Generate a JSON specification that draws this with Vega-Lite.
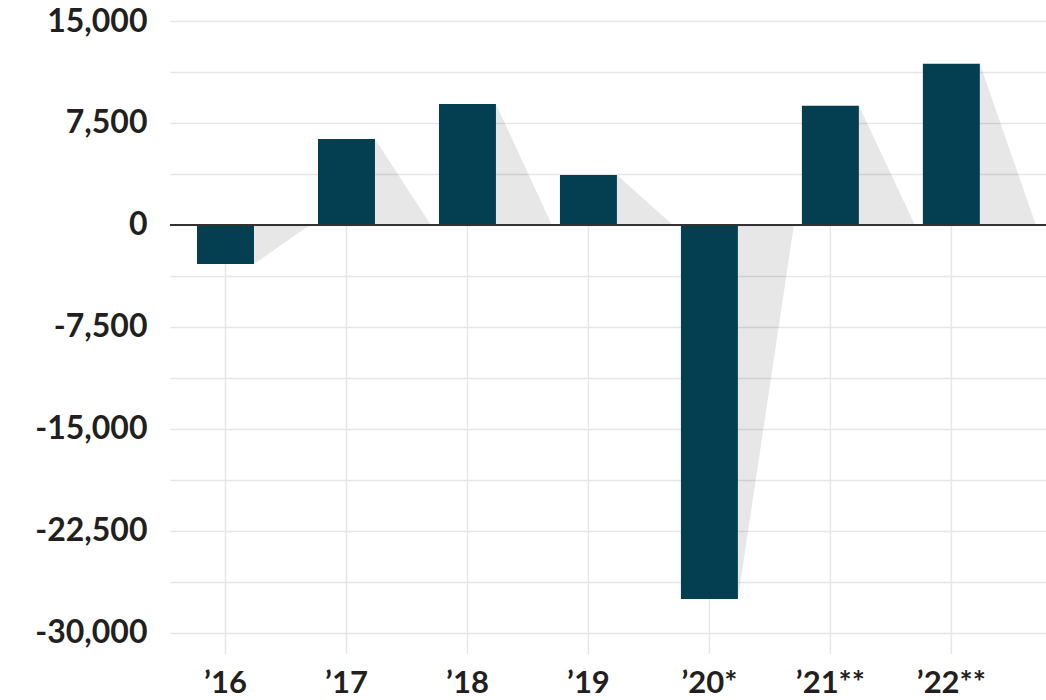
{
  "$schema": "https://vega.github.io/schema/vega-lite/v6.json",
  "width": 876,
  "height": 633,
  "autosize": {"type": "none"},
  "padding": {"left": 170, "top": 21, "right": 0, "bottom": 46},
  "background": "white",
  "config": {
    "view": {"stroke": null},
    "font": "Lato",
    "axis": {
      "labelFont": "Lato",
      "labelFontWeight": "bold",
      "labelFontSize": 32,
      "labelColor": "#231f20",
      "domain": false,
      "ticks": false,
      "title": null
    }
  },
  "data": {
    "values": [
      {"year": "’16", "value": -2870},
      {"year": "’17", "value": 6320},
      {"year": "’18", "value": 8900},
      {"year": "’19", "value": 3680},
      {"year": "’20*", "value": -27500},
      {"year": "’21**", "value": 8770},
      {"year": "’22**", "value": 11860}
    ]
  },
  "resolve": {"scale": {"xOffset": "independent"}},
  "encoding": {
    "x": {
      "field": "year",
      "type": "nominal",
      "sort": null,
      "scale": {"type": "band", "paddingInner": 0.529, "paddingOuter": 0.385, "align": 0.29},
      "axis": {"labelAngle": 0, "labelPadding": 14, "labelFontSize": 31, "grid": false, "labelBaseline": "top"}
    }
  },
  "layer": [
    {
      "mark": {"type": "rule", "color": "#e6e6e6", "strokeWidth": 1.5},
      "encoding": {
        "y": {
          "datum": 0,
          "type": "quantitative",
          "scale": {"domain": [-31550, 15000], "nice": false, "zero": false},
          "axis": {
            "values": [-30000, -26250, -22500, -18750, -15000, -11250, -7500, -3750, 0, 3750, 7500, 11250, 15000],
            "labelExpr": "datum.value % 7500 === 0 ? replace(format(datum.value, ','), '\u2212', '-') : ''",
            "labelPadding": 23,
            "grid": true,
            "gridColor": "#e6e6e6",
            "gridWidth": 1.5
          }
        },
        "y2": {"datum": -31550}
      }
    },
    {
      "transform": [
        {"fold": ["value"], "as": ["k", "v"]},
        {"impute": "v", "key": "k", "keyvals": ["value", "end"], "groupby": ["year"], "value": 0}
      ],
      "mark": {"type": "area", "color": "#000000", "opacity": 0.095, "interpolate": "linear"},
      "encoding": {
        "xOffset": {
          "field": "k",
          "type": "nominal",
          "scale": {"type": "point", "domain": ["value", "end"], "range": [57, 113], "padding": 0}
        },
        "y": {"field": "v", "type": "quantitative"},
        "y2": {"datum": 0},
        "detail": {"field": "year"}
      }
    },
    {
      "mark": {"type": "bar", "color": "#033f51", "width": {"band": 1}},
      "encoding": {
        "y": {"field": "value", "type": "quantitative"}
      }
    },
    {
      "mark": {"type": "rule", "color": "#333333", "strokeWidth": 1.5},
      "encoding": {
        "x": {"value": 0},
        "x2": {"value": 876},
        "y": {"datum": 0, "type": "quantitative"}
      }
    }
  ]
}
